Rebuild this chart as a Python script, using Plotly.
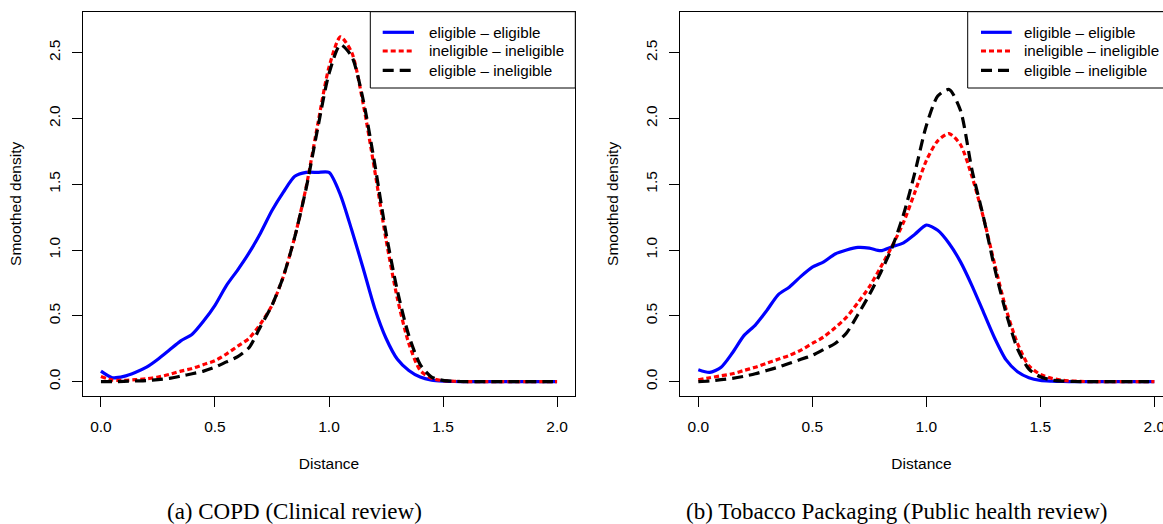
import plotly.graph_objects as go

# ---------------- data ----------------
dist = [0.00, 0.05, 0.10, 0.15, 0.20, 0.25, 0.30, 0.35, 0.40, 0.45,
        0.50, 0.55, 0.60, 0.65, 0.70, 0.75, 0.80, 0.85, 0.90, 0.95,
        1.00, 1.05, 1.10, 1.15, 1.20, 1.25, 1.30, 1.35, 1.40, 1.45,
        1.50, 1.55, 1.60, 1.65, 1.70, 1.75, 1.80, 1.85, 1.90, 1.95, 2.00]

# (a) COPD
copd_ee = [0.08, 0.03, 0.04, 0.07, 0.11, 0.17, 0.24, 0.31, 0.36, 0.46,
           0.58, 0.73, 0.85, 0.98, 1.13, 1.30, 1.44, 1.56, 1.59, 1.59,
           1.59, 1.42, 1.15, 0.86, 0.56, 0.33, 0.17, 0.085, 0.035, 0.012,
           0.004, 0.001, 0, 0, 0, 0, 0, 0, 0, 0, 0]
copd_ii = [0.04, 0.012, 0.01, 0.015, 0.022, 0.035, 0.055, 0.08, 0.10, 0.13,
           0.16, 0.21, 0.27, 0.33, 0.44, 0.58, 0.80, 1.10, 1.48, 1.95,
           2.39, 2.62, 2.50, 2.11, 1.61, 1.08, 0.63, 0.29, 0.085, 0.025,
           0.008, 0.003, 0, 0, 0, 0, 0, 0, 0, 0, 0]
copd_ei = [0.0, 0.0, 0.002, 0.005, 0.008, 0.015, 0.025, 0.042, 0.06, 0.08,
           0.11, 0.15, 0.19, 0.26, 0.42, 0.58, 0.80, 1.10, 1.47, 1.92,
           2.34, 2.56, 2.47, 2.14, 1.66, 1.13, 0.69, 0.35, 0.13, 0.035,
           0.01, 0.003, 0, 0, 0, 0, 0, 0, 0, 0, 0]

# (b) Tobacco Packaging
tob_ee = [0.09, 0.07, 0.11, 0.22, 0.35, 0.43, 0.54, 0.66, 0.72, 0.80,
          0.87, 0.91, 0.97, 1.00, 1.02, 1.015, 0.995, 1.025, 1.055, 1.12,
          1.19, 1.15, 1.05, 0.91, 0.73, 0.53, 0.33, 0.165, 0.075, 0.03,
          0.01, 0.004, 0.001, 0, 0, 0, 0, 0, 0, 0, 0]
tob_ii = [0.013, 0.03, 0.045, 0.06, 0.085, 0.11, 0.14, 0.17, 0.20, 0.24,
          0.29, 0.34, 0.41, 0.49, 0.60, 0.72, 0.87, 1.03, 1.21, 1.44,
          1.68, 1.83, 1.885, 1.80, 1.56, 1.25, 0.89, 0.55, 0.29, 0.12,
          0.055, 0.025, 0.01, 0.004, 0.001, 0, 0, 0, 0, 0, 0]
tob_ei = [0.0, 0.005, 0.015, 0.025, 0.04, 0.06, 0.085, 0.11, 0.14, 0.17,
          0.20, 0.245, 0.29, 0.37, 0.51, 0.66, 0.83, 1.02, 1.27, 1.59,
          1.945, 2.17, 2.22, 2.06, 1.61, 1.255, 0.86, 0.52, 0.25, 0.095,
          0.037, 0.012, 0.004, 0.001, 0, 0, 0, 0, 0, 0, 0]

series_names = ["eligible \u2013 eligible", "ineligible \u2013 ineligible",
                "eligible \u2013 ineligible"]
x_tickvals = [0.0, 0.5, 1.0, 1.5, 2.0]
x_ticktext = ["0.0", "0.5", "1.0", "1.5", "2.0"]
y_tickvals = [0.0, 0.5, 1.0, 1.5, 2.0, 2.5]
y_ticktext = ["0.0", "0.5", "1.0", "1.5", "2.0", "2.5"]
captions = ["(a) COPD (Clinical review)",
            "(b) Tobacco Packaging (Public health review)"]

# ---------------- styling ----------------
W, H = 1163, 524
SANS = "Liberation Sans, Arial, Helvetica, sans-serif"
SERIF = "Liberation Serif, Times New Roman, serif"
FS = 15.5
styles = [
    dict(color="#0000FF", width=3.2, dash="solid"),
    dict(color="#FF0000", width=3.2, dash="5px,3px"),
    dict(color="#000000", width=3.2, dash="11px,6px"),
]


def px_x(p):
    return p / W


def px_y(p):
    return 1 - p / H


fig = go.Figure()
panels = [
    ([copd_ee, copd_ii, copd_ei], "x", "y"),
    ([tob_ee, tob_ii, tob_ei], "x2", "y2"),
]
for vals_list, xa, ya in panels:
    for name, vals, st in zip(series_names, vals_list, styles):
        fig.add_trace(go.Scatter(
            x=dist, y=vals, mode="lines", name=name,
            line=dict(color=st["color"], width=st["width"], dash=st["dash"],
                      shape="spline", smoothing=0.7),
            xaxis=xa, yaxis=ya, showlegend=False, hoverinfo="skip"))

axis_common = dict(
    showgrid=False, zeroline=False, showline=True, linecolor="#000000",
    linewidth=1, ticks="outside", ticklen=10, tickwidth=1,
    tickcolor="#000000", tickfont=dict(family=SANS, size=FS, color="#000000"),
    title_font=dict(family=SANS, size=FS, color="#000000"),
)

fig.update_layout(
    width=W, height=H,
    margin=dict(l=0, r=0, t=0, b=0, autoexpand=False),
    paper_bgcolor="white", plot_bgcolor="white",
    font=dict(family=SANS, size=FS, color="#000000"),
    showlegend=False,
    xaxis=dict(domain=[px_x(82.7), px_x(575.3)], range=[-0.08, 2.08],
               tickvals=x_tickvals, ticktext=x_ticktext, mirror=True,
               anchor="y", ticklabelstandoff=6,
               title=dict(text="Distance", standoff=24),
               **axis_common),
    yaxis=dict(domain=[px_y(396), px_y(11.7)], range=[-0.109, 2.811],
               tickvals=y_tickvals, ticktext=y_ticktext, tickangle=-90,
               mirror=True, anchor="x", ticklabelstandoff=6,
               title=dict(text="Smoothed density", standoff=20),
               **axis_common),
    xaxis2=dict(domain=[px_x(680), 1.0], range=[-0.0803, 2.038],
                tickvals=x_tickvals, ticktext=x_ticktext, mirror=True,
                anchor="y2", ticklabelstandoff=6, ticklabeloverflow="allow",
                title=dict(text="Distance", standoff=24),
                **axis_common),
    yaxis2=dict(domain=[px_y(396), px_y(11.7)], range=[-0.109, 2.811],
                tickvals=y_tickvals, ticktext=y_ticktext, tickangle=-90,
                mirror=False, anchor="x2", ticklabelstandoff=6,
                title=dict(text="Smoothed density", standoff=20),
                **axis_common),
)

# ---------------- legends (R-style boxed legends) ----------------
legend_boxes = [
    dict(box_l=370.3, box_r=575.3, line_l=382.7, line_r=414.0, text_l=427.0),
    dict(box_l=967.7, box_r=1172.7, line_l=981.0, line_r=1011.7, text_l=1022.0),
]
box_top, box_bot = 11.7, 88.0
row_y = [32.3, 51.0, 70.3]
for lb in legend_boxes:
    fig.add_shape(type="rect", xref="paper", yref="paper",
                  x0=px_x(lb["box_l"]), x1=px_x(lb["box_r"]),
                  y0=px_y(box_bot), y1=px_y(box_top),
                  line=dict(color="#000000", width=1), fillcolor="white",
                  layer="above")
    for name, st, ry in zip(series_names, styles, row_y):
        fig.add_shape(type="line", xref="paper", yref="paper",
                      x0=px_x(lb["line_l"]), x1=px_x(lb["line_r"]),
                      y0=px_y(ry), y1=px_y(ry),
                      line=dict(color=st["color"], width=st["width"],
                                dash=st["dash"]),
                      layer="above")
        fig.add_annotation(text=name, x=px_x(lb["text_l"]), y=px_y(ry),
                           xref="paper", yref="paper", xanchor="left",
                           yanchor="middle", showarrow=False,
                           font=dict(family=SANS, size=15.2, color="#000000"))

for cap, cx in zip(captions, [294, 896]):
    fig.add_annotation(text=cap, x=px_x(cx), y=px_y(511), xref="paper",
                       yref="paper", xanchor="center", yanchor="middle",
                       showarrow=False,
                       font=dict(family=SERIF, size=23, color="#000000"))

fig.write_html(
    "out.html",
    config={"displayModeBar": False},
    post_script="document.body.style.margin='0px';"
                "document.body.style.padding='0px';"
                "document.body.style.overflow='hidden';")
